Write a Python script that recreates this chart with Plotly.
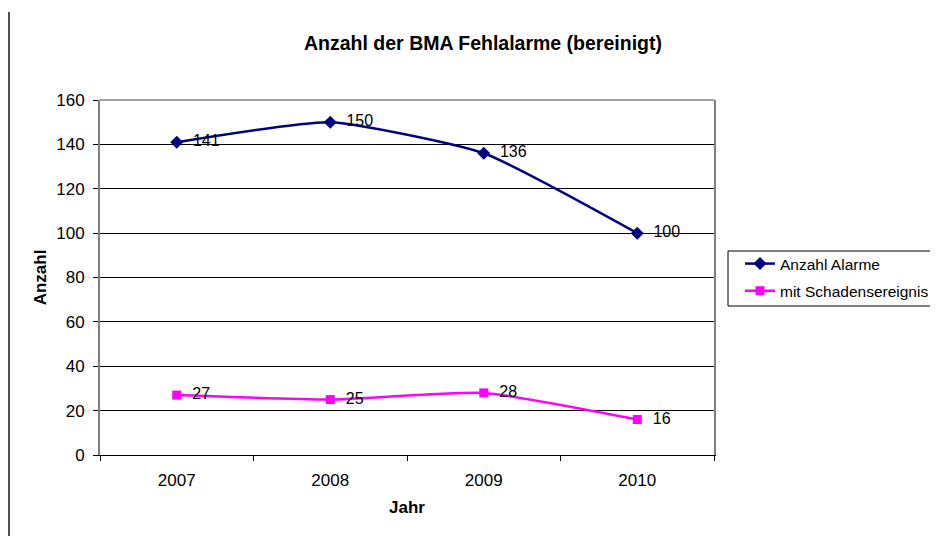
import plotly.graph_objects as go

jahre = ["2007", "2008", "2009", "2010"]
anzahl_alarme = [141, 150, 136, 100]
mit_schaden = [27, 25, 28, 16]

FONT = "Liberation Sans, Arial, sans-serif"

# the page body has an 8px margin, so the figure sits at (8, 8) in the window
OFF = 8
W, H = 938 - OFF, 536 - OFF
L, T = 100 - OFF, 100 - OFF
R, B = W - (714 - OFF), H - (455 - OFF)
PW, PH = W - L - R, H - T - B


def px(x):
    # window pixel -> paper x
    return (x - OFF - L) / PW


def py(y):
    # window pixel -> paper y
    return (H - B - (y - OFF)) / PH


fig = go.Figure()

fig.add_trace(go.Scatter(
    x=jahre, y=anzahl_alarme, name="Anzahl Alarme", legendgroup="a",
    mode="lines+markers+text",
    line=dict(color="#000080", width=2.5, shape="spline", smoothing=0.5),
    marker=dict(symbol="diamond", size=10, color="#000080"),
    text=["  " + str(v) for v in anzahl_alarme], textposition="middle right",
    textfont=dict(family=FONT, size=16, color="black"), cliponaxis=False,
))
fig.add_trace(go.Scatter(
    x=jahre, y=mit_schaden, name="mit Schadensereignis", legendgroup="b",
    mode="lines+markers+text",
    line=dict(color="#FF00FF", width=2.5, shape="spline", smoothing=0.5),
    marker=dict(symbol="square", size=9, color="#FF00FF"),
    text=["  " + str(v) for v in mit_schaden], textposition="middle right",
    textfont=dict(family=FONT, size=16, color="black"), cliponaxis=False,
))

fig.update_layout(
    width=W, height=H,
    margin=dict(l=L, r=R, t=T, b=B, autoexpand=False),
    paper_bgcolor="white", plot_bgcolor="white",
    font=dict(family=FONT, size=16, color="black"),
    title=dict(text="<b>Anzahl der BMA Fehlalarme (bereinigt)</b>", x=(483 - OFF) / W,
               xanchor="center", y=1 - (43 - OFF) / H, yanchor="middle", font=dict(size=19.5)),
    showlegend=True,
    legend=dict(x=px(740), y=py(247), xanchor="left", yanchor="top",
                bgcolor="rgba(0,0,0,0)", borderwidth=0, font=dict(size=15.5),
                traceorder="grouped", tracegroupgap=4, itemwidth=30),
    xaxis=dict(type="category", range=[-0.5, 3.5], tickson="boundaries", ticks="outside",
               ticklen=5, tickcolor="black", showgrid=False, showline=True, linecolor="black",
               linewidth=1, zeroline=False, tickfont=dict(size=17), ticklabelstandoff=10,
               title=dict(text="<b>Jahr</b>", standoff=11, font=dict(size=17))),
    yaxis=dict(range=[0, 160], dtick=20, ticks="outside", ticklen=5, tickcolor="black",
               showgrid=True, gridcolor="black", gridwidth=1, zeroline=False,
               showline=True, linecolor="#808080", linewidth=2, mirror=True,
               tickfont=dict(size=17), ticklabelstandoff=5,
               title=dict(text="<b>Anzahl</b>", standoff=5, font=dict(size=17))),
    shapes=[
        # top border of the plot area
        dict(type="line", xref="paper", yref="paper", x0=0, x1=1, y0=1, y1=1,
             line=dict(color="#808080", width=1.5)),
        # legend box
        dict(type="rect", xref="paper", yref="paper", x0=px(728), x1=px(945),
             y0=py(306), y1=py(251), line=dict(color="black", width=1)),
        # chart area border on the left
        dict(type="line", xref="paper", yref="paper", x0=px(9), x1=px(9),
             y0=py(545), y1=py(12), line=dict(color="#505050", width=2)),
    ],
)

fig.write_html("out.html")
